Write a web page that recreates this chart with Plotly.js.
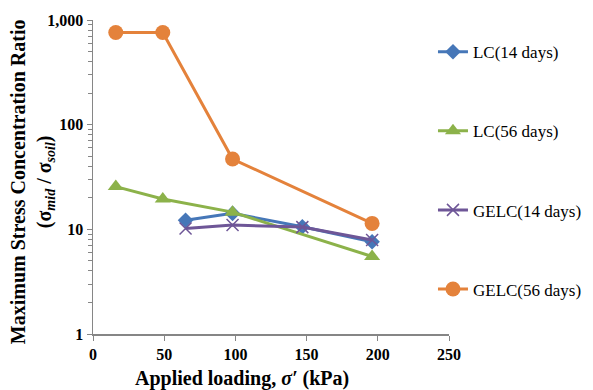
<!DOCTYPE html>
<html><head><meta charset="utf-8">
<script src="https://cdn.plot.ly/plotly-3.0.1.min.js"></script>
<style>html,body{margin:0;padding:0;background:#fff}</style>
</head><body><div id="chart" style="width:593px;height:390px"></div>
<script>
const names = ['LC(14 days)', 'LC(56 days)', 'GELC(14 days)', 'GELC(56 days)'];
const lc14X = [65, 98, 147, 196];
const lc14Y = [12.2, 14.2, 10.6, 7.6];
const lc56X = [16, 49, 98, 196];
const lc56Y = [25.6, 19.5, 14.6, 5.5];
const gelc14X = [65, 98, 147, 196];
const gelc14Y = [10.2, 11.0, 10.5, 7.9];
const gelc56X = [16, 49, 98, 196];
const gelc56Y = [760, 760, 47, 11.4];
const xTicks = [0, 50, 100, 150, 200, 250];
const yTicks = [1, 10, 100, 1000];
const yTickText = ['1', '10', '100', '1,000'];
const xTitle = '<b>Applied loading, <i>σ′</i> (kPa)</b>';
const yTitle = '<b>Maximum Stress Concentration Ratio<br>(σ<sub><i>mid</i></sub> / σ<sub><i>soil</i></sub>)</b>';

const colors = ['#4677b8', '#8cb24a', '#6e5697', '#e4823b'];
const symbols = ['diamond', 'triangle-up', 'x-thin-open', 'circle'];
const sizes = [12, 14, 12, 15];
const xs = [lc14X, lc56X, gelc14X, gelc56X];
const ys = [lc14Y, lc56Y, gelc14Y, gelc56Y];

const traces = names.map((n, i) => ({
  x: xs[i], y: ys[i], name: n, type: 'scatter', mode: 'lines+markers',
  legendgroup: 'g' + i,
  line: {color: colors[i], width: 3},
  marker: {symbol: symbols[i], size: sizes[i], color: colors[i],
           line: {color: i === 2 ? '#8a76b0' : colors[i], width: i === 2 ? 1.5 : 0}}
}));

const minorVals = [];
for (let d = 1; d <= 100; d *= 10) for (let k = 2; k <= 9; k++) minorVals.push(d * k);

const fam = 'Liberation Serif, Times New Roman, serif';
const layout = {
  width: 593, height: 390,
  margin: {l: 93, r: 144, t: 20, b: 56, autoexpand: false},
  paper_bgcolor: '#fff', plot_bgcolor: '#fff',
  font: {family: fam, color: '#000'},
  showlegend: true,
  legend: {x: 0.955, xanchor: 'left', y: 0.955, yanchor: 'top', tracegroupgap: 54,
           font: {family: fam, size: 17, color: '#000'}, traceorder: 'grouped'},
  xaxis: {range: [0, 250], tickvals: xTicks, ticks: 'outside', ticklen: 5, tickcolor: '#868686',
          showline: true, linecolor: '#868686', linewidth: 1.5, showgrid: false, zeroline: false,
          tickfont: {family: fam, size: 16, color: '#000', weight: 'bold'}},
  yaxis: {type: 'log', range: [0, 3], tickmode: 'array', tickvals: yTicks, ticktext: yTickText,
          ticks: 'outside', ticklen: 5, tickcolor: '#868686',
          minor: {tickmode: 'array', tickvals: minorVals, ticks: 'outside', ticklen: 4, tickcolor: '#868686', showgrid: false},
          showline: true, linecolor: '#868686', linewidth: 1.5, showgrid: false, zeroline: false,
          tickfont: {family: fam, size: 16, color: '#000', weight: 'bold'}},
  annotations: [
    {text: xTitle, xref: 'paper', yref: 'paper', x: 0.419, y: -0.143, xanchor: 'center', yanchor: 'middle',
     showarrow: false, font: {family: fam, size: 20, color: '#000'}},
    {text: yTitle, xref: 'paper', yref: 'paper', x: -0.171, y: 0.484, xanchor: 'center', yanchor: 'middle',
     textangle: -90, showarrow: false, font: {family: fam, size: 20, color: '#000'}}
  ]
};
Plotly.newPlot('chart', traces, layout, {displayModeBar: false, staticPlot: true});
</script></body></html>
